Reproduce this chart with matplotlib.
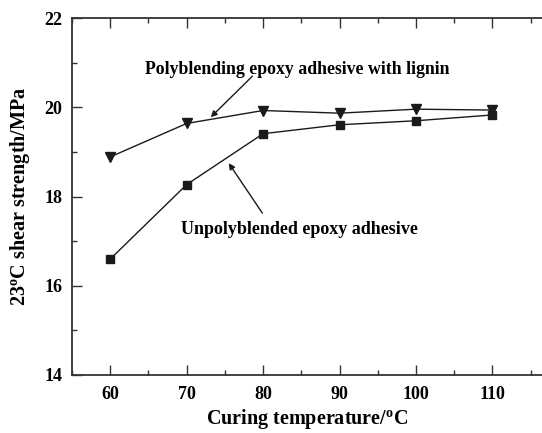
import numpy as np
import matplotlib
matplotlib.use('Agg')
import matplotlib.pyplot as plt
from matplotlib.ticker import MultipleLocator

plt.rcParams['font.family'] = 'Liberation Serif'
plt.rcParams['font.weight'] = 'bold'
plt.rcParams['mathtext.fontset'] = 'custom'
plt.rcParams['mathtext.rm'] = 'Liberation Serif:bold'
plt.rcParams['mathtext.default'] = 'rm'

temps = [60, 70, 80, 90, 100, 110]
lignin = [18.89, 19.64, 19.93, 19.87, 19.96, 19.94]
plain = [16.60, 18.27, 19.41, 19.61, 19.70, 19.83]

fig = plt.figure(figsize=(5.42, 4.33), dpi=100)
ax = fig.add_axes([0.133, 0.134, 0.867, 0.824])

ax.plot(temps, lignin, color='#1a1a1a', lw=1.0, marker='v', ms=7)
ax.plot(temps, plain, color='#1a1a1a', lw=1.0, marker='s', ms=5.5)

ax.set_xlim(55, 116.5)
ax.set_ylim(14, 22)
ax.xaxis.set_major_locator(MultipleLocator(10))
ax.xaxis.set_minor_locator(MultipleLocator(5))
ax.yaxis.set_major_locator(MultipleLocator(2))
ax.yaxis.set_minor_locator(MultipleLocator(1))
ax.tick_params(which='both', direction='in', top=True, right=False,
               labelsize=13, width=1.0, color='#333333')
ax.tick_params(axis='x', pad=8)
ax.tick_params(axis='y', pad=7)
ax.tick_params(which='major', length=7)
ax.tick_params(which='minor', length=3.5)
ax.spines['right'].set_visible(False)
for s in ['left', 'bottom', 'top']:
    ax.spines[s].set_linewidth(1.3)
    ax.spines[s].set_color('#333333')
for lab in ax.get_xticklabels() + ax.get_yticklabels():
    lab.set_fontweight('bold')

ax.set_xlabel('Curing temperature/$^{o}$C', fontsize=14.5, fontweight='bold', labelpad=3)
ax.set_ylabel('23$^{o}$C shear strength/MPa', fontsize=14.5, fontweight='bold', labelpad=9)

arrow = dict(arrowstyle='-|>', color='#1a1a1a', lw=1.0, mutation_scale=9,
             shrinkA=0, shrinkB=0)
ax.text(84.5, 20.86, 'Polyblending epoxy adhesive with lignin', fontsize=12.8,
        fontweight='bold', ha='center', va='center')
ax.annotate('', xy=(73.15, 19.78), xytext=(78.6, 20.70), arrowprops=arrow)
ax.text(84.7, 17.27, 'Unpolyblended epoxy adhesive', fontsize=13,
        fontweight='bold', ha='center', va='center')
ax.annotate('', xy=(75.5, 18.75), xytext=(79.9, 17.63), arrowprops=arrow)

fig.savefig('out.png', dpi=100)
